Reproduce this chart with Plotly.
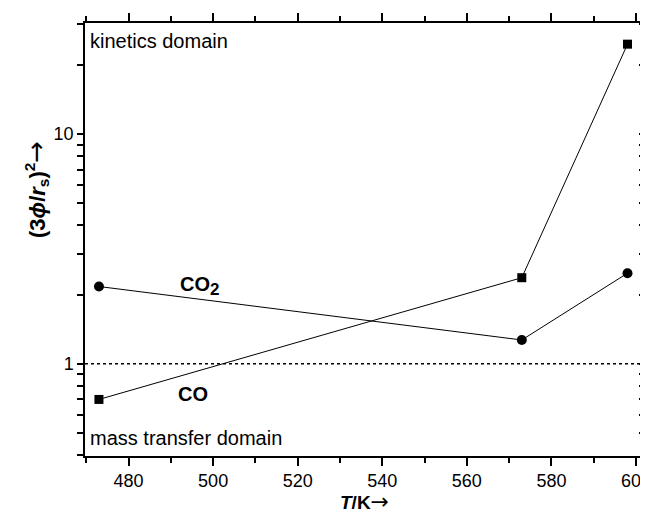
import plotly.graph_objects as go

# Data
temperature = [473, 573, 598]
co_values = [0.70, 2.37, 24.6]
co2_values = [2.17, 1.27, 2.48]

x_range = [469.7, 601.9]
y_range_log = [-0.401, 1.483]
y_major = [1, 10]
y_minor = [0.4, 0.5, 0.6, 0.7, 0.8, 0.9, 2, 3, 4, 5, 6, 7, 8, 9, 20, 30]
y_tickvals = y_major + y_minor
y_ticktext = ["1", "10"] + [""] * len(y_minor)

FONT = "Liberation Sans, Arial, sans-serif"


def arrow(size):
    return f'<span style="font-family:DejaVu Sans;font-size:{size}px">→</span>'


fig = go.Figure()

fig.add_trace(go.Scatter(
    x=temperature, y=co_values, mode="lines+markers",
    line=dict(color="black", width=1),
    marker=dict(symbol="square", size=9, color="black"),
    name="CO", showlegend=False, hoverinfo="x+y"))

fig.add_trace(go.Scatter(
    x=temperature, y=co2_values, mode="lines+markers",
    line=dict(color="black", width=1),
    marker=dict(symbol="circle", size=10, color="black"),
    name="CO2", showlegend=False, hoverinfo="x+y"))

# invisible helper trace that activates the right-hand tick axis
fig.add_trace(go.Scatter(
    x=temperature, y=co_values, xaxis="x", yaxis="y2", mode="lines",
    line=dict(width=0), hoverinfo="skip", showlegend=False))

fig.add_hline(y=1, line=dict(color="black", width=1.5, dash="dot"))

tick_style = dict(tickwidth=1.5, tickcolor="black")

fig.update_layout(
    width=648, height=514,
    margin=dict(l=77, r=5, t=11, b=66),
    paper_bgcolor="white", plot_bgcolor="white",
    font=dict(family=FONT, size=18, color="black"),
    xaxis=dict(range=x_range, dtick=20, tick0=0, ticks="outside",
               ticklen=8, ticklabeloverflow="allow",
               minor=dict(dtick=10, tick0=0, ticks="outside", ticklen=5,
                          tickwidth=1.5, tickcolor="black"),
               showline=True, mirror="ticks", linecolor="black",
               linewidth=1.5, showgrid=False, zeroline=False,
               tickfont=dict(size=18), **tick_style),
    yaxis=dict(type="log", range=y_range_log, tickvals=y_tickvals,
               ticktext=y_ticktext, ticks="outside", ticklen=6,
               showline=True, mirror=True, linecolor="black",
               linewidth=1.5, showgrid=False, zeroline=False,
               tickfont=dict(size=18), **tick_style),
    # right frame ticks (inward)
    yaxis2=dict(type="log", range=y_range_log, overlaying="y", side="right",
                anchor="x", tickvals=y_tickvals, ticks="inside", ticklen=5,
                showticklabels=False, showline=True, linecolor="black",
                linewidth=1.5, showgrid=False, zeroline=False, **tick_style),
)

annotations = [
    dict(text="kinetics domain", x=0.006, y=0.959, xref="paper", yref="paper",
         xanchor="left", yanchor="middle", showarrow=False,
         font=dict(size=20)),
    dict(text="mass transfer domain", x=0.006, y=0.041, xref="paper", yref="paper",
         xanchor="left", yanchor="middle", showarrow=False,
         font=dict(size=20)),
    dict(text='<b>CO<sub><span style="font-size:17px">2</span></sub></b>',
         x=0.166, y=0.392, xref="paper", yref="paper",
         xanchor="left", yanchor="middle", showarrow=False,
         font=dict(size=20)),
    dict(text="<b>CO</b>", x=0.162, y=0.144, xref="paper", yref="paper",
         xanchor="left", yanchor="middle", showarrow=False,
         font=dict(size=20)),
    dict(text="<b><i>T</i>/K</b>" + arrow(22), x=0.5, y=-0.105,
         xref="paper", yref="paper",
         xanchor="center", yanchor="middle", showarrow=False,
         font=dict(size=19)),
    dict(text="<b>(3<i>ϕ</i>/<i>r</i><sub>s</sub>)<sup>2</sup></b>" + arrow(26),
         x=-0.087, y=0.615, xref="paper", yref="paper", textangle=-90,
         xanchor="center", yanchor="middle", showarrow=False,
         font=dict(size=22)),
]
fig.update_layout(annotations=annotations)

fig.write_html("out.html")
